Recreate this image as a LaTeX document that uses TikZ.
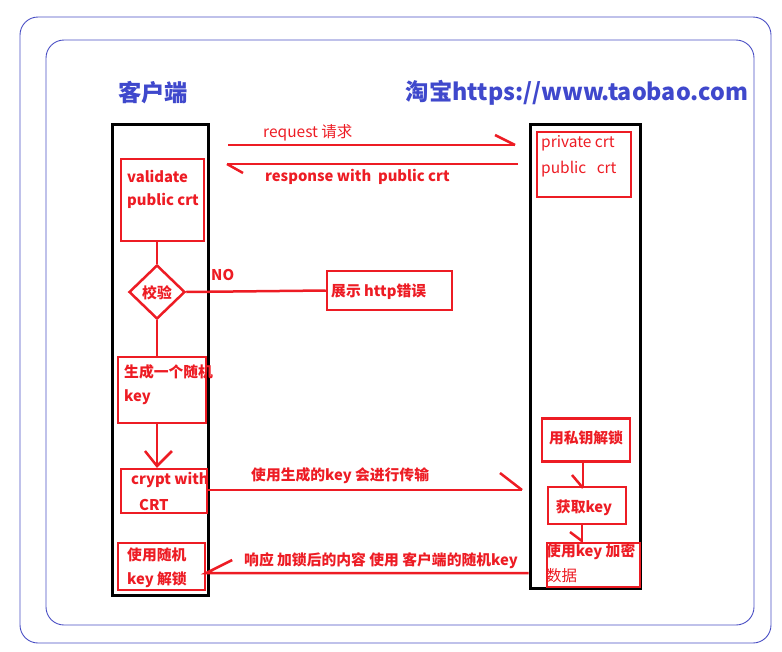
\documentclass[tikz,border=0pt]{standalone}
\usepackage{fontspec}
\usetikzlibrary{shapes.geometric}
\setmainfont{Noto Sans CJK SC}
\begin{document}
\begin{tikzpicture}[x=1pt,y=-1pt,
  redline/.style={draw=pred,line width=2.5pt},
  rbox/.style={draw=pred,line width=2.5pt,inner sep=0pt},
  lane/.style={draw=black,line width=3pt,inner sep=0pt},
  frame/.style={draw=fblue,line width=0.9pt,rounded corners=18pt},
  lbl/.style={text=pred,font=\fontsize{14.8}{16}\selectfont\bfseries,inner sep=0pt,anchor=west},
  lblthin/.style={text=pred,font=\fontsize{15.5}{17}\selectfont,inner sep=0pt,anchor=west},
  ttl/.style={text=tblue,font=\fontsize{23.3}{25}\selectfont\bfseries,inner sep=0pt}]
\definecolor{pred}{HTML}{ED1C24}
\definecolor{tblue}{HTML}{3F48CC}
\definecolor{fblue}{HTML}{4A4FC4}
\useasboundingbox (0,0) rectangle (782,651);

% outer frames
\draw[frame] (20,17) rectangle (771,643);
\draw[frame] (46,40) rectangle (754,625);

% column titles
\node[ttl] (tc) at (153,93) {客户端};
\node[ttl] (ts) at (577,93) {淘宝https://www.taobao.com};

% lanes
\node[lane,minimum width=96pt,minimum height=471pt] (cl) at (160,359.5) {};
\node[lane,minimum width=110pt,minimum height=464pt] (sv) at (585,356) {};

% client steps
\node[rbox,minimum width=83pt,minimum height=82pt] (val) at (162.5,200) {};
\node[lbl] at (127,176) {validate};
\node[lbl] at (127,201) {public crt};

\node[rbox,shape=diamond,shape aspect=1,minimum width=56pt,minimum height=54pt] (chk) at (157,292) {};
\node[lbl,anchor=center] at (157,293) {校验};

\node[rbox,minimum width=125pt,minimum height=39pt] (err) at (389.5,290.5) {};
\node[lbl] at (331,292) {展示 http错误};
\node[lbl] (no) at (211,275) {NO};

\node[rbox,minimum width=88pt,minimum height=66pt] (gen) at (162,390) {};
\node[lbl] at (124,372) {生成一个随机};
\node[lbl] at (124,397) {key};

\node[rbox,minimum width=86pt,minimum height=44pt] (cry) at (164,491) {};
\node[lbl] at (131,480) {crypt with};
\node[lbl] at (139,505) {CRT};

\node[rbox,minimum width=87pt,minimum height=47pt] (dec) at (161.5,566.5) {};
\node[lbl] at (127,555) {使用随机};
\node[lbl] at (127,580) {key 解锁};

% server steps
\node[rbox,minimum width=94pt,minimum height=65pt] (crt) at (584,164.5) {};
\node[lblthin] at (541,143) {private crt};
\node[lblthin] at (541,169) {public\ \ \ crt};

\node[rbox,minimum width=88pt,minimum height=43pt] (unl) at (586,440) {};
\node[lbl,anchor=center] at (586,438) {用私钥解锁};

\node[rbox,minimum width=78pt,minimum height=37pt] (gk) at (587,505.5) {};
\node[lbl,anchor=center] at (584,508) {获取key};

\node[rbox,minimum width=93pt,minimum height=44pt] (enc) at (593.5,565) {};
\node[lbl] at (546,552) {使用key 加密};
\node[lblthin] at (546,576) {数据};

% connector end points
\coordinate (reqS) at (228,145);
\coordinate (reqE) at (515,145);
\coordinate (resS) at (518,164);
\coordinate (resE) at (227,164);
\coordinate (keyE) at (522,490);
\coordinate (ansS) at (sv.west |- 0,573);

% messages
\draw[redline] (reqS) -- (reqE);
\draw[redline] (reqE) -- ++(-20,-10);
\node[lblthin] at (263,133) {request 请求};

\draw[redline] (resS) -- (resE);
\draw[redline] (resE) -- ++(16,9);
\node[lbl] at (265,177) {response with\ \ public crt};

\draw[redline] (cry.east |- keyE) -- (keyE);
\draw[redline] (keyE) -- ++(-22,-17);
\node[lbl] at (251,476) {使用生成的key 会进行传输};

\draw[redline] (ansS) -- (dec.east |- ansS) -- ++(26,-13);
\node[lbl] at (244,561) {响应 加锁后的内容 使用 客户端的随机key};

% client flow
\draw[redline] (val.south -| chk.north) -- (chk.north);
\draw[redline] (chk.east) -- (err.west);
\draw[redline] (chk.south) -- (gen.north -| chk.south);
\draw[redline] (gen.south -| chk.south) -- (157,466);
\draw[redline] (145,451) -- (157,466) -- (172,451);

% server flow
\draw[redline] (unl.south -| 583,0) -- (gk.north -| 583,0);
\draw[redline] (572,475) -- (583,488);
\draw[redline] (gk.south -| 582,0) -- (enc.north -| 582,0);
\draw[redline] (570,532) -- (582,541);
\end{tikzpicture}
\end{document}
